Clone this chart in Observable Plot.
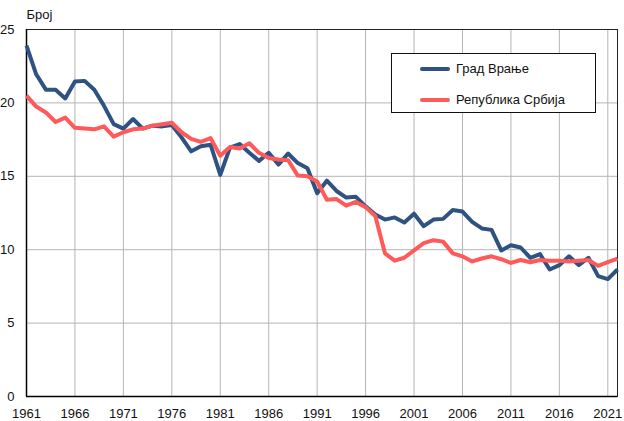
<!DOCTYPE html>
<html>
<head>
<meta charset="utf-8">
<script src="https://cdn.jsdelivr.net/npm/d3@7"></script>
<script src="https://cdn.jsdelivr.net/npm/@observablehq/plot@0.6"></script>
<style>
  html, body { margin: 0; padding: 0; background: #fff; }
  #wrap { position: relative; width: 624px; height: 421px; font-family: "Liberation Sans", Arial, sans-serif; }
  #legend { position: absolute; left: 391px; top: 53px; width: 205px; height: 60px; border: 1px solid #111; background: #fff; box-sizing: border-box; font-size: 13px; color: #111; }
  .item { position: absolute; left: 28px; display: flex; align-items: center; }
  .sw { width: 30px; height: 4px; border-radius: 2px; margin-right: 6px; }
</style>
</head>
<body>
<div id="wrap"></div>
<script>
const years = d3.range(1961, 2023);
const seriesNames = ["Град Врање", "Република Србија"];
const seriesColors = ["#2e5282", "#ff5a5a"];
const vranje = [23.9, 21.95, 20.9, 20.9, 20.3, 21.45, 21.5, 20.9, 19.8, 18.55,
  18.25, 18.9, 18.25, 18.45, 18.4, 18.5, 17.65, 16.7, 17.05, 17.15,
  15.1, 16.95, 17.2, 16.6, 16.05, 16.6, 15.8, 16.55, 15.9, 15.55,
  13.85, 14.7, 14.0, 13.55, 13.6, 12.95, 12.4, 12.05, 12.2, 11.85,
  12.45, 11.6, 12.05, 12.1, 12.7, 12.6, 11.9, 11.45, 11.35, 9.95,
  10.3, 10.15, 9.45, 9.7, 8.65, 8.95, 9.55, 8.95, 9.45, 8.2,
  8.0, 8.65];
const srbija = [20.5, 19.75, 19.35, 18.7, 19.0, 18.3, 18.25, 18.2, 18.4, 17.7,
  18.0, 18.2, 18.25, 18.45, 18.55, 18.65, 18.0, 17.55, 17.35, 17.6,
  16.4, 17.0, 16.9, 17.25, 16.6, 16.25, 16.15, 16.1, 15.05, 15.0,
  14.65, 13.4, 13.45, 13.0, 13.25, 12.9, 12.3, 9.75, 9.25, 9.45,
  9.95, 10.45, 10.65, 10.55, 9.75, 9.55, 9.2, 9.4, 9.55, 9.35,
  9.1, 9.3, 9.15, 9.3, 9.25, 9.25, 9.2, 9.25, 9.3, 8.9,
  9.15, 9.4];
const xTicks = d3.range(1961, 2022, 5);
const yTicks = [0, 5, 10, 15, 20, 25];
const yLabel = "Број";

const rows = [];
years.forEach((yr, i) => {
  rows.push({year: yr, value: vranje[i], s: seriesNames[0]});
});
years.forEach((yr, i) => {
  rows.push({year: yr, value: srbija[i], s: seriesNames[1]});
});

const chart = Plot.plot({
  width: 624,
  height: 421,
  marginLeft: 26,
  marginRight: 7,
  marginTop: 29,
  marginBottom: 25,
  style: {fontFamily: "'Liberation Sans', Arial, sans-serif", fontSize: "13px", color: "#111", background: "#fff", overflow: "visible"},
  x: {domain: [1961, 2022], ticks: xTicks, tickFormat: d => String(d), tickSize: 0, tickPadding: 12, label: null},
  y: {domain: [0, 25], ticks: yTicks, tickSize: 0, tickPadding: 12, label: null},
  color: {domain: seriesNames, range: seriesColors},
  marks: [
    Plot.ruleX(xTicks, {stroke: "#b5b5b5", strokeWidth: 1}),
    Plot.ruleY(yTicks.filter(d => d > 0 && d < 25), {stroke: "#b5b5b5", strokeWidth: 1}),
    Plot.frame({stroke: "#222", strokeWidth: 1}),
    Plot.ruleX([1961], {stroke: "#000", strokeWidth: 1.5}),
    Plot.ruleY([0], {stroke: "#000", strokeWidth: 1.5}),
    Plot.line(rows, {x: "year", y: "value", z: "s", stroke: "s", strokeWidth: 4, strokeLinejoin: "round", strokeLinecap: "butt"}),
    Plot.text([yLabel], {frameAnchor: "top-left", text: d => d, dy: -20, dx: 0, textAnchor: "start", fontSize: 13, fill: "#111"})
  ]
});

const wrap = document.getElementById("wrap");
wrap.appendChild(chart);

const legend = document.createElement("div");
legend.id = "legend";
seriesNames.forEach((name, i) => {
  const it = document.createElement("div");
  it.className = "item";
  it.style.top = (i === 0 ? 7 : 38) + "px";
  const sw = document.createElement("div");
  sw.className = "sw";
  sw.style.background = seriesColors[i];
  const tx = document.createElement("span");
  tx.textContent = name;
  it.appendChild(sw);
  it.appendChild(tx);
  legend.appendChild(it);
});
wrap.appendChild(legend);
</script>
</body>
</html>
